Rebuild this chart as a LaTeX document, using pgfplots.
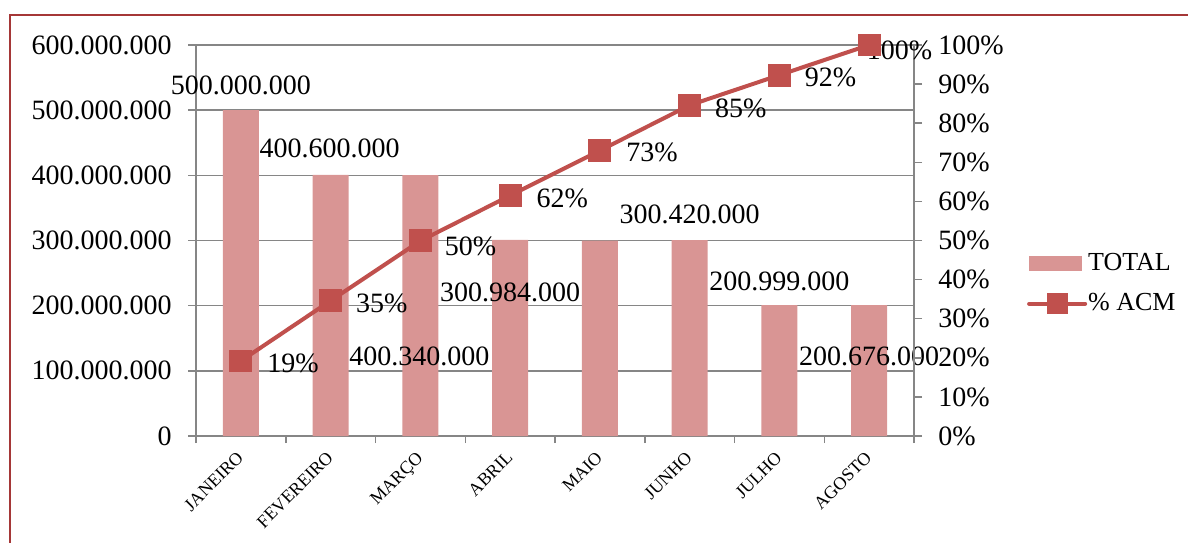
\documentclass[border=0pt]{standalone}
\usepackage{fontspec}
\setmainfont{Liberation Serif}
\usepackage{pgfplots}
\pgfplotsset{compat=1.18}
\definecolor{barcol}{RGB}{217,149,148}
\definecolor{linecol}{RGB}{192,80,77}
\definecolor{gridcol}{RGB}{134,134,134}
\definecolor{framecol}{RGB}{165,55,55}
\newcommand{\lbl}{\fontsize{14}{16}\selectfont}
\begin{document}
\begin{tikzpicture}[x=1pt,y=1pt]
\useasboundingbox (0,0) rectangle (594,271);
\begin{scope}
\clip (0,0) rectangle (594,271);
\draw[framecol, line width=1.2pt] (5,-20) -- (5,263.5) -- (620,263.5);
\end{scope}
\begin{axis}[
  at={(98pt,53pt)}, anchor=south west, scale only axis,
  width=359pt, height=195.5pt,
  xmin=-0.5, xmax=7.5, ymin=0, ymax=600000000,
  axis y line*=left, axis x line*=bottom,
  axis line style={gridcol, line width=0.75pt},
  every tick/.style={gridcol, line width=0.75pt},
  tick align=outside,
  major tick length=4pt, minor tick length=3.5pt,
  xtick={0,1,2,3,4,5,6,7},
  xticklabels={JANEIRO,FEVEREIRO,MARÇO,ABRIL,MAIO,JUNHO,JULHO,AGOSTO},
  minor xtick={-0.5,0.5,1.5,2.5,3.5,4.5,5.5,6.5,7.5},
  major x tick style={draw=none},
  xticklabel style={font=\fontsize{9}{11}\selectfont, xshift=-2.5pt, yshift=-3pt, rotate=45, anchor=north east, inner sep=0pt},
  ytick={0,100000000,200000000,300000000,400000000,500000000,600000000},
  yticklabels={0,100.000.000,200.000.000,300.000.000,400.000.000,500.000.000,600.000.000},
  scaled y ticks=false,
  yticklabel style={font=\lbl, anchor=east, inner sep=0pt, xshift=-8pt},
  ymajorgrids, grid style={gridcol, line width=0.75pt},
  clip=false,
]
\addplot[ybar, bar width=18pt, fill=barcol, draw=none] coordinates {
  (0,500000000) (1,400600000) (2,400340000) (3,300984000)
  (4,300000000) (5,300420000) (6,200999000) (7,200676000)};
\node[font=\lbl] at (axis cs:0,538600000) {500.000.000};
\node[font=\lbl] at (axis cs:0.99,441900000) {400.600.000};
\node[font=\lbl] at (axis cs:1.99,122800000) {400.340.000};
\node[font=\lbl] at (axis cs:3.0,221000000) {300.984.000};
\node[font=\lbl] at (axis cs:5.0,340600000) {300.420.000};
\node[font=\lbl] at (axis cs:6.0,237800000) {200.999.000};
\node[font=\lbl] at (axis cs:7.0,122800000) {200.676.000};
\end{axis}
\begin{axis}[
  at={(98pt,53pt)}, anchor=south west, scale only axis,
  width=359pt, height=195.5pt,
  xmin=-0.5, xmax=7.5, ymin=0, ymax=1,
  axis y line*=right, axis x line=none,
  axis line style={gridcol, line width=0.75pt},
  every tick/.style={gridcol, line width=0.75pt},
  tick align=outside, major tick length=4pt,
  ytick={0,0.1,0.2,0.3,0.4,0.5,0.6,0.7,0.8,0.9,1},
  yticklabels={0\%,10\%,20\%,30\%,40\%,50\%,60\%,70\%,80\%,90\%,100\%},
  yticklabel style={font=\lbl, anchor=west, inner sep=0pt, xshift=8pt},
  clip=false,
  legend style={at={(1.157,0.39)}, anchor=west, draw=none, fill=none, inner sep=0pt,
    font=\fontsize{13}{15}\selectfont, row sep=9pt, nodes={inner sep=0.5pt}},
  legend cell align=left,
]
\addlegendimage{legend image code/.code={\fill[barcol] (0pt,-3.5pt) rectangle (26pt,3.5pt);}}
\addlegendentry{TOTAL}
\addplot[linecol, line width=2pt, mark=square*, mark size=4.7pt, mark options={fill=linecol, draw=none},
  legend image code/.code={\draw[linecol, line width=2pt, line cap=round] (0pt,0pt) -- (28pt,0pt); \fill[linecol] (14pt,0pt) +(-4.2pt,-4.2pt) rectangle +(4.2pt,4.2pt);}]
  coordinates {(0,0.192) (1,0.346) (2,0.499) (3,0.615) (4,0.730) (5,0.846) (6,0.923) (7,1.0)};
\addlegendentry{\% ACM}
\node[font=\lbl] at (axis cs:0.58,0.187) {19\%};
\node[font=\lbl] at (axis cs:1.57,0.340) {35\%};
\node[font=\lbl] at (axis cs:2.56,0.486) {50\%};
\node[font=\lbl] at (axis cs:3.58,0.609) {62\%};
\node[font=\lbl] at (axis cs:4.58,0.726) {73\%};
\node[font=\lbl] at (axis cs:5.57,0.839) {85\%};
\node[font=\lbl] at (axis cs:6.57,0.918) {92\%};
\node[font=\lbl] at (axis cs:7.34,0.987) {100\%};
\end{axis}
\end{tikzpicture}
\end{document}
